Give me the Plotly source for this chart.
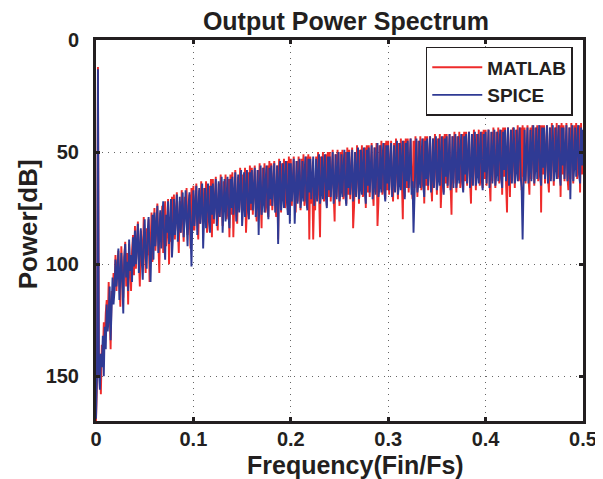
import plotly.graph_objects as go

FREQ_STEP = 0.001

# SPICE spectrum values (dB, plotted on reversed axis)
spice_db = [
    169, 150, 13, 148, 156, 140, 146, 132, 150, 128, 138, 118, 130, 124, 110, 134, 120, 106, 118, 112,
    98, 110, 104, 93, 116, 101, 95, 108, 122, 97, 91, 106, 99, 112, 89, 103, 96, 108, 88, 101,
    85, 100, 93, 82, 104, 96, 84, 99, 107, 88, 80, 97, 102, 86, 79, 95, 108, 90, 78, 98,
    77, 92, 85, 74, 95, 89, 76, 93, 80, 72, 90, 98, 78, 86, 72, 91, 84, 71, 97, 88,
    71, 87, 79, 69, 90, 83, 70, 86, 76, 68, 88, 81, 67, 85, 92, 74, 68, 84, 101, 79,
    67, 83, 75, 65, 87, 79, 66, 82, 71, 64, 93, 80, 66, 84, 73, 64, 81, 86, 65, 78,
    64, 80, 72, 62, 83, 76, 63, 79, 70, 61, 86, 77, 62, 81, 69, 61, 78, 84, 62, 75,
    61, 78, 69, 59, 81, 74, 60, 77, 67, 58, 83, 75, 59, 79, 66, 58, 76, 80, 59, 73,
    58, 76, 67, 57, 79, 72, 58, 87, 65, 56, 78, 73, 57, 77, 64, 56, 74, 80, 57, 71,
    56, 74, 65, 55, 77, 70, 56, 91, 63, 54, 76, 71, 55, 75, 62, 54, 72, 78, 55, 82,
    55, 72, 64, 53, 82, 69, 54, 73, 61, 53, 75, 70, 54, 72, 60, 52, 71, 76, 53, 68,
    53, 71, 62, 52, 74, 68, 53, 72, 60, 51, 73, 69, 52, 71, 59, 51, 70, 75, 52, 67,
    52, 70, 61, 50, 73, 67, 51, 71, 59, 50, 72, 68, 51, 70, 58, 49, 69, 74, 50, 66,
    50, 69, 60, 49, 72, 66, 50, 70, 58, 48, 71, 67, 49, 69, 57, 48, 68, 73, 49, 65,
    48, 68, 58, 47, 71, 65, 48, 69, 56, 46, 70, 66, 47, 68, 55, 46, 67, 72, 47, 64,
    47, 67, 57, 46, 70, 64, 47, 68, 55, 45, 69, 65, 46, 67, 54, 45, 66, 71, 46, 63,
    45, 66, 56, 44, 69, 63, 86, 67, 54, 44, 68, 64, 45, 66, 53, 44, 65, 70, 45, 62,
    44, 65, 55, 43, 68, 62, 44, 66, 53, 43, 67, 63, 44, 65, 52, 43, 64, 69, 44, 61,
    43, 65, 54, 42, 67, 61, 43, 66, 52, 42, 66, 62, 43, 64, 51, 42, 63, 68, 43, 60,
    42, 64, 53, 41, 66, 60, 42, 65, 51, 41, 65, 61, 42, 64, 50, 41, 62, 67, 42, 59,
    41, 64, 52, 40, 66, 59, 41, 64, 50, 40, 65, 60, 41, 63, 49, 40, 62, 66, 41, 58,
    40, 63, 51, 39, 65, 58, 40, 64, 49, 39, 64, 59, 40, 63, 48, 39, 61, 66, 89, 57,
    40, 63, 50, 39, 64, 58, 40, 63, 48, 38, 64, 58, 39, 62, 48, 38, 61, 65, 39, 57,
    39, 62, 50, 38, 64, 57, 39, 63, 48, 38, 63, 58, 39, 62, 47, 38, 60, 65, 39, 56,
    39, 62, 49, 38, 63, 57, 39, 71, 47, 38, 63, 57, 39, 61, 47, 38, 60, 64, 39, 56,
    40,
]

# MATLAB spectrum values (dB)
matlab_db = [
    170, 152, 12, 150, 140, 158, 136, 142, 126, 134, 122, 116, 128, 108, 120, 138, 112, 116, 104, 110,
    96, 112, 100, 94, 108, 119, 92, 104, 115, 98, 90, 110, 95, 118, 91, 102, 112, 94, 87, 105,
    83, 102, 90, 81, 97, 110, 85, 94, 100, 79, 92, 104, 84, 96, 80, 108, 93, 77, 99, 88,
    75, 94, 82, 73, 90, 104, 77, 88, 74, 95, 81, 72, 92, 86, 71, 100, 79, 90, 70, 87,
    69, 89, 77, 68, 84, 95, 72, 86, 67, 82, 90, 70, 78, 66, 87, 83, 69, 93, 66, 85,
    65, 85, 73, 64, 80, 89, 67, 82, 63, 78, 84, 66, 74, 63, 86, 79, 65, 82, 62, 88,
    62, 82, 70, 61, 78, 85, 64, 79, 60, 76, 83, 63, 72, 60, 80, 77, 62, 88, 60, 78,
    59, 88, 67, 58, 77, 82, 61, 76, 57, 74, 79, 60, 70, 57, 86, 75, 59, 78, 56, 76,
    57, 78, 65, 56, 75, 81, 58, 74, 55, 72, 84, 57, 68, 55, 77, 73, 56, 79, 54, 74,
    55, 76, 63, 54, 73, 79, 56, 89, 53, 70, 77, 55, 66, 53, 75, 71, 54, 76, 52, 72,
    53, 74, 62, 52, 71, 77, 54, 72, 52, 69, 76, 53, 65, 51, 74, 70, 52, 75, 51, 89,
    52, 73, 61, 89, 70, 76, 52, 71, 50, 68, 88, 52, 64, 50, 72, 69, 51, 74, 50, 70,
    50, 72, 60, 49, 69, 81, 51, 70, 49, 67, 74, 50, 63, 49, 71, 68, 50, 73, 48, 69,
    49, 71, 59, 48, 84, 74, 50, 69, 47, 66, 73, 49, 62, 47, 70, 67, 48, 75, 47, 68,
    47, 70, 57, 46, 67, 74, 48, 68, 46, 83, 72, 47, 61, 45, 69, 66, 46, 71, 45, 67,
    45, 69, 56, 45, 66, 72, 46, 67, 44, 64, 71, 46, 60, 44, 68, 80, 45, 70, 44, 66,
    44, 68, 55, 44, 65, 71, 45, 66, 43, 63, 70, 45, 59, 43, 67, 64, 44, 73, 43, 65,
    43, 67, 54, 43, 64, 72, 44, 65, 42, 62, 69, 44, 58, 42, 75, 63, 43, 68, 42, 64,
    42, 66, 53, 42, 64, 78, 43, 64, 41, 61, 68, 43, 57, 41, 66, 62, 42, 67, 41, 63,
    41, 65, 52, 41, 63, 73, 42, 64, 40, 60, 67, 42, 56, 40, 65, 61, 41, 66, 40, 62,
    40, 65, 51, 40, 62, 72, 41, 63, 39, 59, 66, 41, 55, 39, 64, 60, 40, 69, 39, 61,
    39, 64, 77, 39, 62, 70, 40, 63, 39, 58, 66, 40, 54, 38, 63, 60, 39, 67, 38, 61,
    39, 64, 50, 38, 61, 69, 39, 62, 38, 58, 65, 39, 53, 38, 63, 59, 38, 77, 38, 60,
    38, 64, 49, 38, 61, 68, 39, 62, 37, 57, 65, 39, 53, 37, 62, 59, 38, 70, 37, 60,
    38, 63, 49, 37, 61, 67, 39, 62, 37, 57, 64, 38, 52, 37, 62, 58, 38, 68, 37, 60,
    41,
]

freq = [i * FREQ_STEP for i in range(len(spice_db))]

x_ticks = [0, 0.1, 0.2, 0.3, 0.4, 0.5]
x_tick_text = ["0", "0.1", "0.2", "0.3", "0.4", "0.5"]
y_ticks = [0, 50, 100, 150]

FONT = "Liberation Sans, Arial, sans-serif"
INK = "#231f20"

fig = go.Figure()
fig.add_trace(go.Scatter(x=freq, y=matlab_db, mode="lines", name="<b>MATLAB</b>",
                         line=dict(color="#ee2b2b", width=1.9)))
fig.add_trace(go.Scatter(x=freq, y=spice_db, mode="lines", name="<b>SPICE</b>",
                         line=dict(color="#2f3a94", width=1.9)))

axis_common = dict(
    showline=True, linewidth=3, linecolor=INK, mirror="ticks",
    ticks="inside", ticklen=4, tickwidth=3, tickcolor=INK,
    showgrid=True, gridcolor="#666666", gridwidth=1, griddash="1px,5px",
    zeroline=False, automargin=False,
    tickfont=dict(family=FONT, size=20, color=INK, weight="bold"),
)

# page body adds an 8px offset, so the figure is 8px smaller than the window
fig.update_layout(
    width=595, height=471,
    margin=dict(l=88, r=20, t=32, b=58),
    paper_bgcolor="white", plot_bgcolor="white",
    title=dict(text="<b>Output Power Spectrum</b>", x=0.568, xanchor="center",
               y=0.972, yanchor="middle",
               font=dict(family=FONT, size=25, color=INK)),
    xaxis=dict(range=[0, 0.5], tickvals=x_ticks, ticktext=x_tick_text,
               ticklabelstandoff=-2, **axis_common),
    yaxis=dict(range=[170, 0], tickvals=y_ticks, ticklabelstandoff=10,
               **axis_common),
    legend=dict(x=0.979, xanchor="right", y=0.982, yanchor="top",
                bgcolor="white", bordercolor=INK, borderwidth=1.5,
                font=dict(family=FONT, size=19, color=INK),
                tracegroupgap=0, itemwidth=50),
    showlegend=True,
    annotations=[
        dict(text="<b>Frequency(Fin/Fs)</b>", xref="paper", yref="paper",
             x=0.532, y=-0.116, xanchor="center", yanchor="middle",
             showarrow=False, font=dict(family=FONT, size=25, color=INK)),
        dict(text="<b>Power[dB]</b>", xref="paper", yref="paper",
             x=-0.139, y=0.517, xanchor="center", yanchor="middle",
             textangle=-90, showarrow=False,
             font=dict(family=FONT, size=26, color=INK)),
    ],
)

fig.write_html("out.html")
